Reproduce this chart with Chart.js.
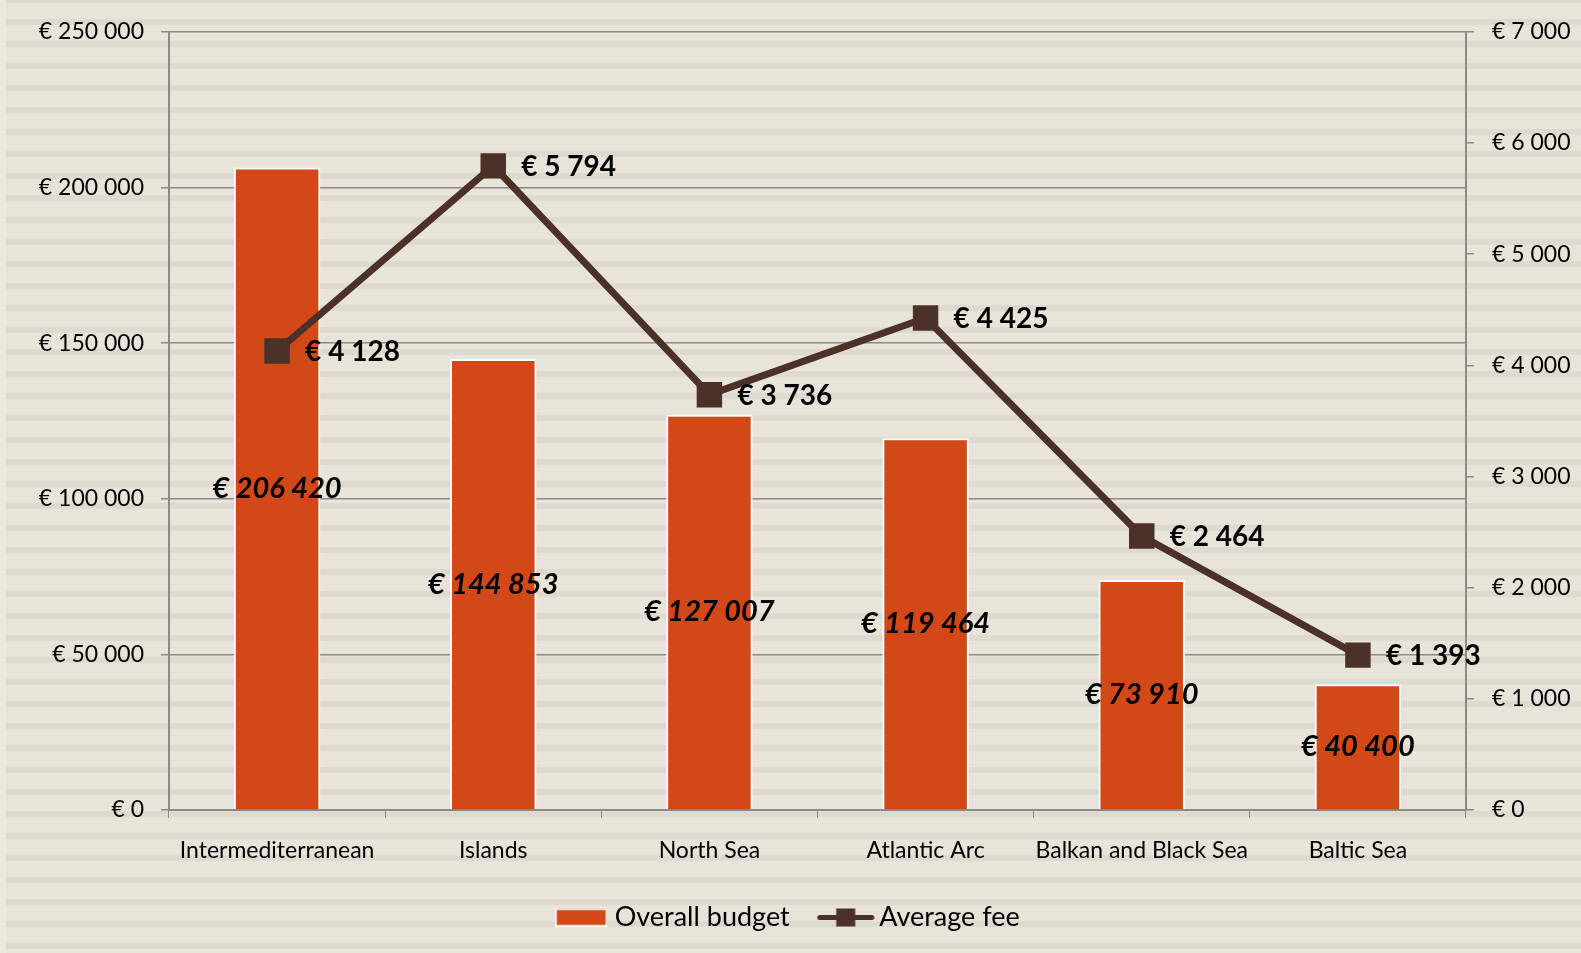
<!DOCTYPE html>
<html>
<head>
  <title>Overall budget and average fee</title>
  <script src="https://cdn.jsdelivr.net/npm/chart.js"></script>
  <style>
    html, body { margin: 0; padding: 0; background: #e8e4da; }
    #wrap { width: 1581px; height: 953px; }
  </style>
</head>
<body>
  <div id="wrap"><canvas id="chart" width="1581" height="953"></canvas></div>
  <script>
    // data
    var regions = ['Intermediterranean', 'Islands', 'North Sea', 'Atlantic Arc', 'Balkan and Black Sea', 'Baltic Sea'];
    var overallBudget = [206420, 144853, 127007, 119464, 73910, 40400];
    var averageFee = [4128, 5794, 3736, 4425, 2464, 1393];
    var budgetTicks = [0, 50000, 100000, 150000, 200000, 250000];
    var feeTicks = [0, 1000, 2000, 3000, 4000, 5000, 6000, 7000];

    var barColor = '#d24817';
    var lineColor = '#4b3128';
    var gridColor = '#8a8a8a';
    var font = 'Lato, "Open Sans", sans-serif';

    function euro(v) {
      return '€ ' + String(Math.round(v)).replace(/\B(?=(\d{3})+(?!\d))/g, ' ');
    }

    // striped paper background
    var stripes = {
      id: 'stripes',
      beforeDraw: function(chart) {
        var c = chart.ctx;
        c.save();
        c.fillStyle = '#e8e4da';
        c.fillRect(0, 0, chart.width, chart.height);
        c.fillStyle = '#dfdacf';
        for (var y = -3; y < chart.height; y += 22) {
          c.fillRect(6, y, chart.width - 6, 6);
        }
        c.fillStyle = '#ece9e1';
        c.fillRect(0, 0, 6, chart.height);
        c.restore();
      }
    };

    // value labels: bold italic in the middle of bars, bold right of line points
    var valueLabels = {
      id: 'valueLabels',
      afterDatasetsDraw: function(chart) {
        var c = chart.ctx;
        c.save();
        c.fillStyle = '#000';
        c.textBaseline = 'middle';
        var bars = chart.getDatasetMeta(0).data;
        c.font = 'italic bold 29px ' + font;
        c.textAlign = 'center';
        bars.forEach(function(b, i) {
          c.fillText(euro(overallBudget[i]), b.x, (b.y + b.base) / 2);
        });
        var pts = chart.getDatasetMeta(1).data;
        c.font = 'bold 28px ' + font;
        c.textAlign = 'left';
        pts.forEach(function(p, i) {
          c.fillText(euro(averageFee[i]), p.x + 28, p.y + 1);
        });
        c.restore();
      }
    };

    // legend swatches
    var barSwatch = document.createElement('canvas');
    barSwatch.width = 52; barSwatch.height = 18;
    (function() {
      var c = barSwatch.getContext('2d');
      c.fillStyle = '#fff';
      c.fillRect(0, 0, 52, 18);
      c.fillStyle = barColor;
      c.fillRect(1.5, 1.5, 49, 15);
    })();
    var lineSwatch = document.createElement('canvas');
    lineSwatch.width = 58; lineSwatch.height = 19;
    (function() {
      var c = lineSwatch.getContext('2d');
      c.strokeStyle = lineColor;
      c.lineWidth = 5;
      c.lineCap = 'round';
      c.beginPath();
      c.moveTo(3, 9.5); c.lineTo(55, 9.5);
      c.stroke();
      c.fillStyle = lineColor;
      c.fillRect(19.5, 0.5, 19, 18);
    })();

    var ctx = document.getElementById('chart').getContext('2d');
    var chart = new Chart(ctx, {
      type: 'bar',
      data: {
        labels: regions,
        datasets: [{
          type: 'bar',
          label: 'Overall budget',
          data: overallBudget,
          yAxisID: 'y',
          backgroundColor: barColor,
          borderColor: '#ffffff',
          borderWidth: 2,
          barPercentage: 0.4,
          categoryPercentage: 1,
          order: 1
        }, {
          type: 'line',
          label: 'Average fee',
          data: averageFee,
          yAxisID: 'y1',
          borderColor: lineColor,
          backgroundColor: lineColor,
          borderWidth: 7,
          pointStyle: 'rect',
          pointRadius: 18,
          pointBorderWidth: 0,
          tension: 0,
          order: 0
        }]
      },
      options: {
        responsive: false,
        animation: false,
        events: [],
        layout: { padding: { top: 29, bottom: 12, left: 0, right: 0 } },
        scales: {
          x: {
            offset: true,
            grid: { display: true, drawOnChartArea: false, drawTicks: true, tickLength: 8, color: gridColor, offset: true },
            border: { display: true, color: gridColor, width: 2 },
            ticks: { color: '#000', font: { family: font, size: 23 }, padding: 19, maxRotation: 0, minRotation: 0, autoSkip: false },
            afterFit: function(s) { s.height = 58; }
          },
          y: {
            position: 'left',
            min: 0, max: 250000,
            afterBuildTicks: function(s) { s.ticks = budgetTicks.map(function(v) { return { value: v }; }); },
            grid: { color: gridColor, lineWidth: 1.5, tickLength: 8 },
            border: { display: true, color: gridColor, width: 2 },
            ticks: { color: '#000', font: { family: font, size: 23 }, padding: 17, callback: euro },
            afterFit: function(s) { s.width = 169; }
          },
          y1: {
            position: 'right',
            min: 0, max: 7000,
            afterBuildTicks: function(s) { s.ticks = feeTicks.map(function(v) { return { value: v }; }); },
            grid: { drawOnChartArea: false, color: gridColor, lineWidth: 1.5, tickLength: 8 },
            border: { display: true, color: gridColor, width: 2 },
            ticks: { color: '#000', font: { family: font, size: 23 }, padding: 18, callback: euro },
            afterFit: function(s) { s.width = 115; }
          }
        },
        plugins: {
          tooltip: { enabled: false },
          legend: {
            position: 'bottom',
            labels: {
              color: '#000',
              font: { family: font, size: 27 },
              usePointStyle: true,
              pointStyleWidth: 40,
              padding: 36,
              generateLabels: function() {
                return [
                  { text: 'Overall budget', pointStyle: barSwatch, datasetIndex: 0, hidden: false, lineWidth: 0, fontColor: '#000' },
                  { text: 'Average fee', pointStyle: lineSwatch, datasetIndex: 1, hidden: false, lineWidth: 0, fontColor: '#000' }
                ];
              }
            }
          }
        }
      },
      plugins: [stripes, valueLabels]
    });
  </script>
</body>
</html>
